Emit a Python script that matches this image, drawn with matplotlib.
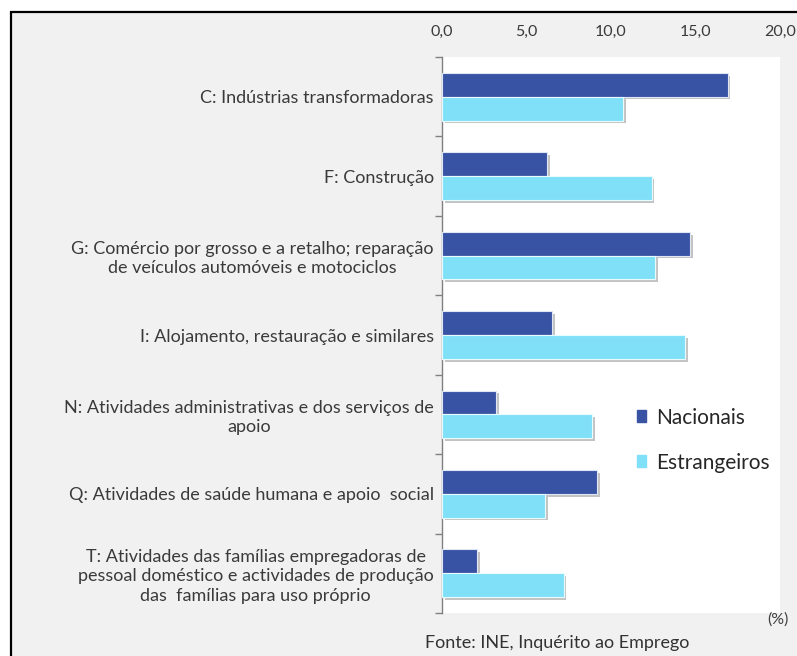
import matplotlib.pyplot as plt
import matplotlib.patheffects as pe
from matplotlib.patches import Rectangle
import numpy as np

plt.rcParams['font.family'] = ['Lato', 'DejaVu Sans']

categories = [
    'C: Indústrias transformadoras',
    'F: Construção',
    'G: Comércio por grosso e a retalho; reparação\nde veículos automóveis e motociclos',
    'I: Alojamento, restauração e similares',
    'N: Atividades administrativas e dos serviços de\napoio',
    'Q: Atividades de saúde humana e apoio  social',
    'T: Atividades das famílias empregadoras de\npessoal doméstico e actividades de produção\ndas  famílias para uso próprio',
]
nacionais = [16.9, 6.2, 14.7, 6.5, 3.2, 9.2, 2.1]
estrangeiros = [10.7, 12.4, 12.6, 14.4, 8.9, 6.1, 7.2]
xticks = [0, 5, 10, 15, 20]
xtick_labels = ['0,0', '5,0', '10,0', '15,0', '20,0']

col_nac = '#3953a4'
col_est = '#80e0f8'

fig = plt.figure(figsize=(7.97, 6.56), dpi=100, facecolor='white')

# screenshot frame: light grey panel with dark border top/left
fig.patches.append(Rectangle((11 / 797, -0.05), 1.1, 1 - 12 / 656 + 0.05,
                             transform=fig.transFigure, facecolor='#f1f1f1',
                             edgecolor='black', linewidth=1.6, zorder=-10))

ax = fig.add_axes([442 / 797, 1 - 613 / 656, 338 / 797, 556 / 656])
ax.set_zorder(1)
ax.set_facecolor('white')

y = np.arange(len(categories))
h = 0.3
shadow = [pe.SimplePatchShadow(offset=(2, -2), shadow_rgbFace='#888888', alpha=0.5), pe.Normal()]
b1 = ax.barh(y - h / 2, nacionais, height=h, color=col_nac, edgecolor='#dfe6f5',
             linewidth=0.8, label='Nacionais', zorder=3)
b2 = ax.barh(y + h / 2, estrangeiros, height=h, color=col_est, edgecolor='#e8fbff',
             linewidth=0.8, label='Estrangeiros', zorder=3)
for bar in list(b1) + list(b2):
    bar.set_path_effects(shadow)

ax.set_xlim(0, 20)
ax.set_ylim(len(categories) - 0.5, -0.5)
ax.xaxis.tick_top()
ax.set_xticks(xticks)
ax.set_xticklabels(xtick_labels, fontsize=11.5, color='#3a3a3a')
ax.tick_params(axis='x', length=0, pad=13)

ax.set_yticks(y)
ax.set_yticklabels(categories, fontsize=13, color='#3a3a3a', linespacing=1.25,
                   multialignment='center')
ax.set_yticks(np.arange(-0.5, len(categories)), minor=True)
ax.tick_params(axis='y', which='major', length=0, pad=6)
ax.tick_params(axis='y', which='minor', length=5, color='#808080', width=1)

for s in ['top', 'right', 'bottom']:
    ax.spines[s].set_visible(False)
ax.spines['left'].set_color('#808080')
ax.spines['left'].set_linewidth(1)

handles = [Rectangle((0, 0), 1, 1, color=col_nac), Rectangle((0, 0), 1, 1, color=col_est)]
fig.legend(handles, ['Nacionais', 'Estrangeiros'], loc='center left',
           bbox_to_anchor=(618 / 797, 1 - 440 / 656), frameon=False, fontsize=15,
           handlelength=0.45, handleheight=0.45, handletextpad=0.5, labelspacing=1.2,
           labelcolor='#262626')

fig.text(778 / 797, 1 - 620 / 656, '(%)', fontsize=11.5, color='#404040',
         ha='center', va='center')
fig.text(557 / 797, 1 - 643 / 656, 'Fonte: INE, Inquérito ao Emprego', fontsize=13,
         color='#333333', ha='center', va='center')

fig.savefig('out.png', dpi=100, facecolor=fig.get_facecolor())
